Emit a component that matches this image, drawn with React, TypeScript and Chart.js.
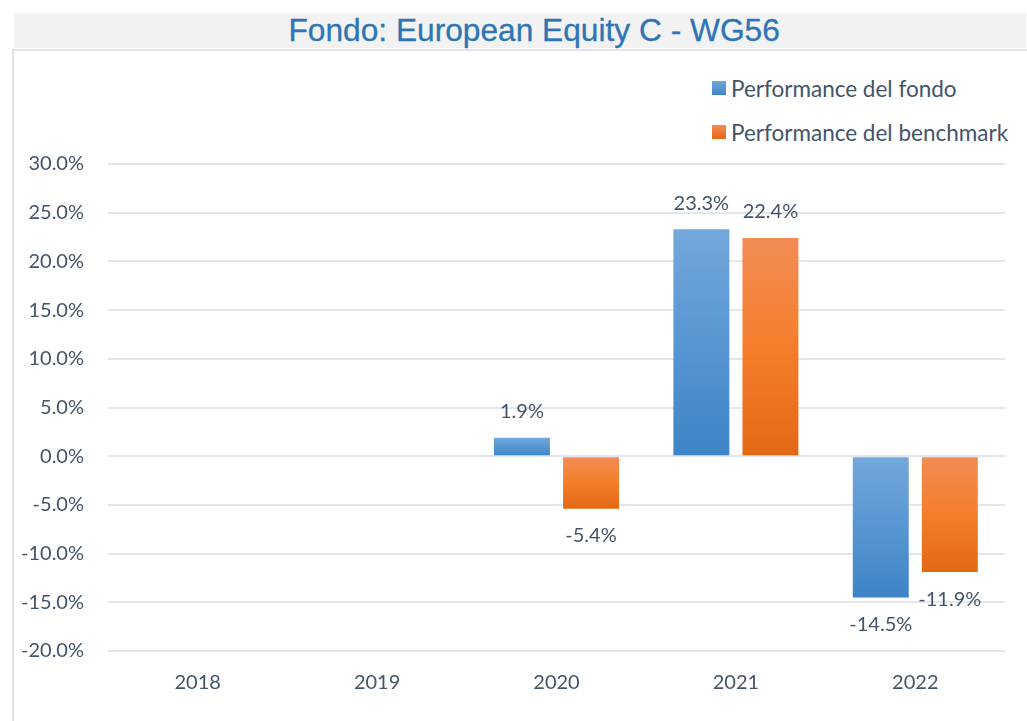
import React, { useEffect, useRef } from "react";
import { Chart, registerables } from "chart.js";

Chart.register(...registerables);

const titleText = "Fondo: European Equity C - WG56";
const categories = ["2018", "2019", "2020", "2021", "2022"];
const fundLabel = "Performance del fondo";
const benchLabel = "Performance del benchmark";
const fundValues: (number | null)[] = [null, null, 1.9, 23.3, -14.5];
const benchValues: (number | null)[] = [null, null, -5.4, 22.4, -11.9];
const yMin = -20;
const yMax = 30;
const yStep = 5;

const TEXT = "#44546A";
const FONT = "Lato, 'Open Sans', sans-serif";
const BLUE_TOP = "#72A8DC";
const BLUE_BOT = "#3D84C6";
const ORANGE_TOP = "#F28C55";
const ORANGE_MID = "#F47E2B";
const ORANGE_BOT = "#E36816";

function gradientFor(stops: string[]) {
  return (ctx: any) => {
    const chart = ctx.chart;
    if (!chart.chartArea || ctx.type !== "data") return stops[0];
    const v = ctx.raw;
    if (v == null) return stops[0];
    const y = chart.scales.y;
    const p0 = y.getPixelForValue(0);
    const p1 = y.getPixelForValue(v);
    const top = Math.min(p0, p1);
    const bot = Math.max(p0, p1) + 0.01;
    const g = chart.ctx.createLinearGradient(0, top, 0, bot);
    stops.forEach((c, i) => g.addColorStop(i / (stops.length - 1), c));
    return g;
  };
}

const labelPlugin = {
  id: "barLabels",
  afterDatasetsDraw(chart: any) {
    const ctx = chart.ctx;
    ctx.save();
    ctx.font = `20px ${FONT}`;
    ctx.fillStyle = TEXT;
    ctx.textAlign = "center";
    ctx.textBaseline = "middle";
    chart.data.datasets.forEach((ds: any, di: number) => {
      const meta = chart.getDatasetMeta(di);
      meta.data.forEach((bar: any, i: number) => {
        const v = ds.data[i];
        if (v == null) return;
        const y = v >= 0 ? bar.y - 26 : bar.y + 27;
        ctx.fillText(v.toFixed(1) + "%", bar.x, y);
      });
    });
    ctx.restore();
  },
};

export default function App() {
  const ref = useRef<HTMLCanvasElement>(null);
  useEffect(() => {
    if (!ref.current) return;
    const chart = new Chart(ref.current, {
      type: "bar",
      data: {
        labels: categories,
        datasets: [
          {
            label: fundLabel,
            data: fundValues,
            backgroundColor: gradientFor([BLUE_TOP, BLUE_BOT]),
            categoryPercentage: 0.77,
            barPercentage: 0.81,
          },
          {
            label: benchLabel,
            data: benchValues,
            backgroundColor: gradientFor([ORANGE_TOP, ORANGE_MID, ORANGE_BOT]),
            categoryPercentage: 0.77,
            barPercentage: 0.81,
          },
        ],
      },
      options: {
        animation: false,
        responsive: false,
        maintainAspectRatio: false,
        layout: { padding: { left: 0, right: 22, top: 164, bottom: 0 } },
        plugins: {
          legend: { display: false },
          tooltip: { enabled: false },
          title: { display: false },
        },
        scales: {
          x: {
            grid: { display: false, drawTicks: false },
            border: { display: false },
            ticks: { color: TEXT, font: { family: FONT, size: 20 }, padding: 20 },
            afterFit: (s: any) => {
              s.height = 70;
            },
          },
          y: {
            min: yMin,
            max: yMax,
            grid: { color: "#E3E6EC", lineWidth: 2, drawTicks: false },
            border: { display: false },
            ticks: {
              stepSize: yStep,
              color: TEXT,
              font: { family: FONT, size: 20 },
              padding: 24,
              callback: (v: any) => Number(v).toFixed(1) + "%",
            },
            afterFit: (s: any) => {
              s.width = 108;
            },
          },
        },
      },
      plugins: [labelPlugin],
    });
    return () => chart.destroy();
  }, []);

  const legendItem = (label: string, top: number, grad: string) => (
    <div
      style={{
        position: "absolute",
        left: 712,
        top,
        display: "flex",
        alignItems: "center",
        height: 26,
        fontFamily: FONT,
        fontSize: 22.5,
        color: TEXT,
        whiteSpace: "nowrap",
      }}
    >
      <span
        style={{
          display: "inline-block",
          width: 14,
          height: 14,
          background: grad,
          marginRight: 5,
        }}
      />
      {label}
    </div>
  );

  return (
    <div
      style={{
        position: "fixed",
        left: 0,
        top: 0,
        width: 1027,
        height: 721,
        overflow: "hidden",
        background: "#fff",
      }}
    >
      <div
        style={{
          position: "absolute",
          left: 14,
          top: 13,
          width: 1012,
          height: 35,
          background: "#F2F2F2",
          color: "#2E75B6",
          fontFamily: "'Liberation Sans', Arial, sans-serif",
          fontSize: 32,
          lineHeight: "34px",
          textAlign: "center",
          paddingLeft: 28,
          boxSizing: "border-box",
          whiteSpace: "nowrap",
          WebkitTextStroke: "0.3px #2E75B6",
        }}
      >
        <span
          style={{
            display: "inline-block",
            transform: "scaleX(0.99)",
            transformOrigin: "center",
          }}
        >
          {titleText}
        </span>
      </div>
      <div
        style={{
          position: "absolute",
          left: 12,
          top: 49,
          width: 1100,
          height: 700,
          borderLeft: "2px solid #E1E5EB",
          borderTop: "2px solid #E1E5EB",
        }}
      />
      {legendItem(fundLabel, 75, `linear-gradient(${BLUE_TOP}, ${BLUE_BOT})`)}
      {legendItem(benchLabel, 119, `linear-gradient(${ORANGE_TOP}, ${ORANGE_BOT})`)}
      <canvas
        ref={ref}
        width={1027}
        height={721}
        style={{ position: "absolute", left: 0, top: 0, width: 1027, height: 721 }}
      />
    </div>
  );
}
